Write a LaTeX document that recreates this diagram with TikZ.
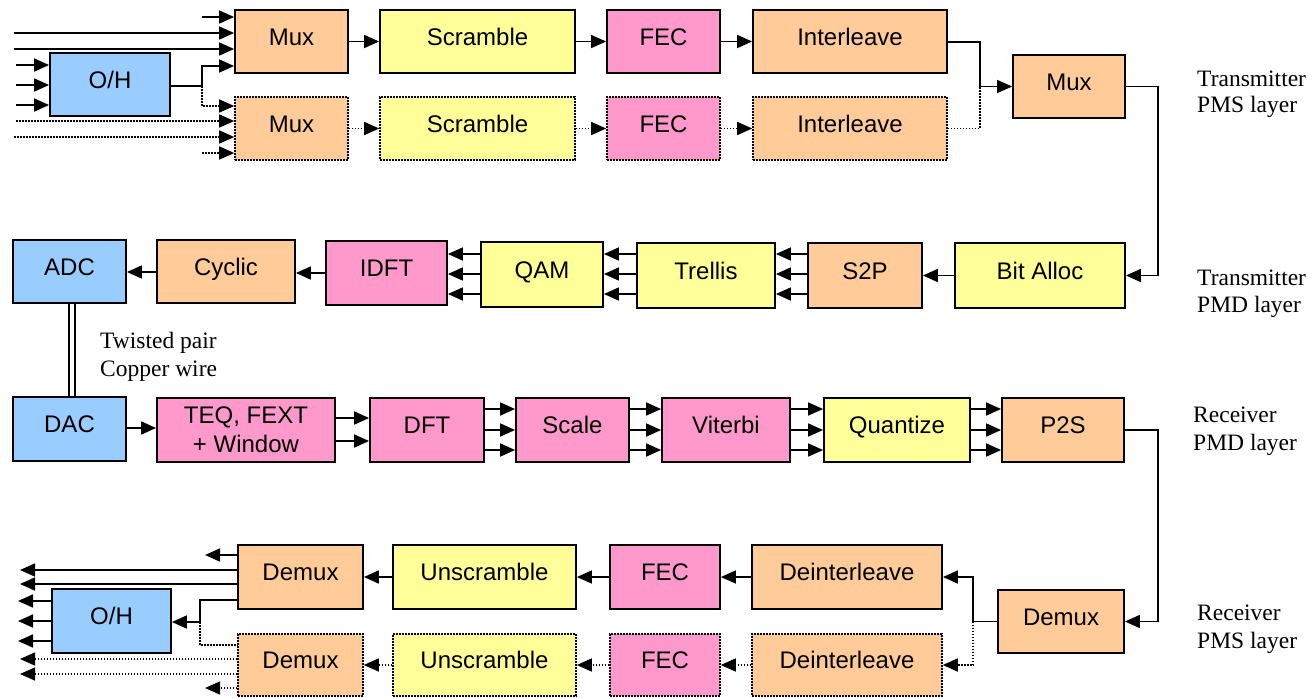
\documentclass[tikz,border=0pt]{standalone}
\usepackage{fontspec}
\setmainfont{Liberation Serif}
\newfontfamily\boxfont{Liberation Sans}
\usetikzlibrary{arrows.meta}
\definecolor{cOr}{HTML}{FFCC99}
\definecolor{cYe}{HTML}{FFFF99}
\definecolor{cPk}{HTML}{FF99CC}
\definecolor{cBl}{HTML}{99CCFF}
\begin{document}
\begin{tikzpicture}[x=1pt,y=-1pt,
  blkbase/.style={draw=black, line width=1.8pt, inner sep=0pt, font=\boxfont\fontsize{24}{29}\selectfont},
  blk/.style={blkbase, text height=17pt, text depth=10pt},
  dblk/.style={blk, line width=1.6pt, dash pattern=on 1.6pt off 1.4pt},
  ln/.style={line width=1.7pt},
  arr/.style={ln, -{Triangle[length=15pt,width=13pt]}},
  dln/.style={line width=1.5pt, dash pattern=on 1.5pt off 1.5pt},
  darr/.style={dln, -{Triangle[length=15pt,width=13pt]}},
  lbl/.style={inner sep=0pt, anchor=base west, font=\fontsize{23.5}{27}\selectfont}
]
\useasboundingbox (0,0) rectangle (1312,697);

% ---------- Transmitter PMS ----------
\node[blk, fill=cOr, minimum width=113pt, minimum height=63pt] (mux1) at (291.5,41.5) {Mux};
\node[blk, fill=cYe, minimum width=195pt, minimum height=63pt] (scr1) at (477.5,41.5) {Scramble};
\node[blk, fill=cPk, minimum width=113pt, minimum height=63pt] (fec1) at (663.5,41.5) {FEC};
\node[blk, fill=cOr, minimum width=194pt, minimum height=63pt] (int1) at (850,41.5) {Interleave};
\node[dblk, fill=cOr, minimum width=113pt, minimum height=63pt] (mux2) at (291.5,128.5) {Mux};
\node[dblk, fill=cYe, minimum width=195pt, minimum height=63pt] (scr2) at (477.5,128.5) {Scramble};
\node[dblk, fill=cPk, minimum width=113pt, minimum height=63pt] (fec2) at (663.5,128.5) {FEC};
\node[dblk, fill=cOr, minimum width=194pt, minimum height=63pt] (int2) at (850,128.5) {Interleave};
\node[blk, fill=cBl, minimum width=120pt, minimum height=63pt] (oh1) at (110,84.5) {O/H};
\node[blk, fill=cOr, minimum width=112pt, minimum height=63pt] (muxR) at (1069,86.5) {Mux};

\coordinate (t1) at (202,17);
\coordinate (t2) at (14,33);
\coordinate (t3) at (14,49);
\coordinate (o1) at (16,65);
\coordinate (o2) at (16,85);
\coordinate (o3) at (16,105);
\coordinate (tj) at (202,86);
\coordinate (d1) at (16,121);
\coordinate (d2) at (14,137);
\coordinate (d3) at (202,153);
\draw[arr] (t1) -- (mux1.west |- t1);
\draw[arr] (t2) -- (mux1.west |- t2);
\draw[arr] (t3) -- (mux1.west |- t3);
\draw[arr] (o1) -- (oh1.west |- o1);
\draw[arr] (o2) -- (oh1.west |- o2);
\draw[arr] (o3) -- (oh1.west |- o3);
\draw[arr] (oh1.east |- tj) -- (tj) -- (202,66) -- (mux1.west |- 0,66);
\draw[darr] (tj) -- (202,106) -- (mux2.west |- 0,106);
\draw[darr] (d1) -- (mux2.west |- d1);
\draw[darr] (d2) -- (mux2.west |- d2);
\draw[darr] (d3) -- (mux2.west |- d3);
\draw[arr] (mux1) -- (scr1);
\draw[arr] (scr1) -- (fec1);
\draw[arr] (fec1) -- (int1);
\draw[darr] (mux2) -- (scr2);
\draw[darr] (scr2) -- (fec2);
\draw[darr] (fec2) -- (int2);
\coordinate (mj) at (980,86.5);
\draw[arr] (int1.east |- 0,42) -- (980,42) -- (mj) -- (muxR.west);
\draw[dln] (int2.east) -- (980,128.5) -- (mj);

\node[lbl] (l1a) at (1197,86) {Transmitter};
\node[lbl] (l1b) at (1197,112) {PMS layer};

% ---------- Transmitter PMD ----------
\node[blk, fill=cBl, minimum width=113pt, minimum height=63pt] (adc) at (69.5,271.5) {ADC};
\node[blk, fill=cOr, minimum width=138pt, minimum height=63pt] (cyc) at (226,271.5) {Cyclic};
\node[blk, fill=cPk, minimum width=121pt, minimum height=64pt] (idft) at (386.5,273) {IDFT};
\node[blk, fill=cYe, minimum width=122pt, minimum height=65pt] (qam) at (542,274.5) {QAM};
\node[blk, fill=cYe, minimum width=138pt, minimum height=65pt] (trel) at (706,275.5) {Trellis};
\node[blk, fill=cOr, minimum width=114pt, minimum height=65pt] (s2p) at (865,275.5) {S2P};
\node[blk, fill=cYe, minimum width=170pt, minimum height=65pt] (bit) at (1040,275.5) {Bit Alloc};

\draw[arr] (muxR.east) -- (1158,86.5) -- (1158,275.5) -- (bit.east);
\draw[arr] (bit) -- (s2p);
\foreach \yy in {254,274,294}{
  \draw[arr] (s2p.west |- 0,\yy) -- (trel.east |- 0,\yy);
  \draw[arr] (trel.west |- 0,\yy) -- (qam.east |- 0,\yy);
  \draw[arr] (qam.west |- 0,\yy) -- (idft.east |- 0,\yy);
}
\draw[arr] (idft.west |- 0,273) -- (cyc.east |- 0,273);
\draw[arr] (cyc.west |- 0,272) -- (adc.east |- 0,272);

\node[lbl] (l2a) at (1197,285) {Transmitter};
\node[lbl] (l2b) at (1197,312) {PMD layer};

% ---------- Receiver PMD ----------
\node[blk, fill=cBl, minimum width=113pt, minimum height=64pt] (dac) at (69.5,429) {DAC};
\node[blkbase, fill=cPk, minimum width=178pt, minimum height=64pt, align=center] (teq) at (246,430) {TEQ, FEXT\\+ Window};
\node[blk, fill=cPk, minimum width=114pt, minimum height=64pt] (dft) at (427,430) {DFT};
\node[blk, fill=cPk, minimum width=113pt, minimum height=64pt] (scale) at (572.5,430) {Scale};
\node[blk, fill=cPk, minimum width=128pt, minimum height=64pt] (vit) at (726,430) {Viterbi};
\node[blk, fill=cYe, minimum width=146pt, minimum height=64pt] (quan) at (897,430) {Quantize};
\node[blk, fill=cOr, minimum width=122pt, minimum height=64pt] (p2s) at (1063,430) {P2S};

\draw[line width=1.8pt, double distance=3.5pt] (adc.south -| 72,0) -- (dac.north -| 72,0);
\node[lbl] (tw1) at (100,348) {Twisted pair};
\node[lbl] (tw2) at (100,376) {Copper wire};

\draw[arr] (dac.east |- 0,428) -- (teq.west |- 0,428);
\draw[arr] (teq.east |- 0,418) -- (dft.west |- 0,418);
\draw[arr] (teq.east |- 0,441) -- (dft.west |- 0,441);
\foreach \yy in {409,430,450}{
  \draw[arr] (dft.east |- 0,\yy) -- (scale.west |- 0,\yy);
  \draw[arr] (scale.east |- 0,\yy) -- (vit.west |- 0,\yy);
  \draw[arr] (vit.east |- 0,\yy) -- (quan.west |- 0,\yy);
  \draw[arr] (quan.east |- 0,\yy) -- (p2s.west |- 0,\yy);
}

\node[lbl] (l3a) at (1193,422) {Receiver};
\node[lbl] (l3b) at (1193,450) {PMD layer};

% ---------- Receiver PMS ----------
\node[blk, fill=cOr, minimum width=125pt, minimum height=64pt] (dmx1) at (300.5,577) {Demux};
\node[blk, fill=cYe, minimum width=183pt, minimum height=64pt] (uns1) at (484.5,577) {Unscramble};
\node[blk, fill=cPk, minimum width=110pt, minimum height=64pt] (fec3) at (665,577) {FEC};
\node[blk, fill=cOr, minimum width=190pt, minimum height=64pt] (dei1) at (847,577) {Deinterleave};
\node[dblk, fill=cOr, minimum width=125pt, minimum height=62pt] (dmx2) at (300.5,665) {Demux};
\node[dblk, fill=cYe, minimum width=183pt, minimum height=62pt] (uns2) at (484.5,665) {Unscramble};
\node[dblk, fill=cPk, minimum width=110pt, minimum height=62pt] (fec4) at (665,665) {FEC};
\node[dblk, fill=cOr, minimum width=190pt, minimum height=62pt] (dei2) at (847,665) {Deinterleave};
\node[blk, fill=cBl, minimum width=119pt, minimum height=64pt] (oh2) at (111.5,621) {O/H};
\node[blk, fill=cOr, minimum width=126pt, minimum height=63pt] (dmxR) at (1061,621.5) {Demux};

\draw[arr] (p2s.east) -- (1158,430) -- (1158,621.5) -- (dmxR.east);
\coordinate (rj) at (973,621.5);
\draw[arr] (dmxR.west) -- (rj) -- (973,577) -- (dei1.east);
\draw[darr] (rj) -- (973,665) -- (dei2.east);
\draw[arr] (dei1) -- (fec3);
\draw[arr] (fec3) -- (uns1);
\draw[arr] (uns1) -- (dmx1);
\draw[darr] (dei2) -- (fec4);
\draw[darr] (fec4) -- (uns2);
\draw[darr] (uns2) -- (dmx2);

\coordinate (e1) at (205,555);
\coordinate (e2) at (20,570);
\coordinate (e3) at (20,584);
\coordinate (bj) at (200,622);
\coordinate (p1) at (18,601);
\coordinate (p2) at (18,621);
\coordinate (p3) at (18,641);
\coordinate (f1) at (20,659);
\coordinate (f2) at (20,674);
\coordinate (f3) at (205,688);
\draw[arr] (dmx1.west |- e1) -- (e1);
\draw[arr] (dmx1.west |- e2) -- (e2);
\draw[arr] (dmx1.west |- e3) -- (e3);
\draw[arr] (dmx1.west |- 0,600) -- (200,600) -- (bj) -- (oh2.east |- bj);
\draw[arr] (oh2.west |- p1) -- (p1);
\draw[arr] (oh2.west |- p2) -- (p2);
\draw[arr] (oh2.west |- p3) -- (p3);
\draw[dln] (bj) -- (200,645) -- (dmx2.west |- 0,645);
\draw[darr] (dmx2.west |- f1) -- (f1);
\draw[darr] (dmx2.west |- f2) -- (f2);
\draw[darr] (dmx2.west |- f3) -- (f3);

\node[lbl] (l4a) at (1197,620) {Receiver};
\node[lbl] (l4b) at (1197,648) {PMS layer};
\end{tikzpicture}
\end{document}
